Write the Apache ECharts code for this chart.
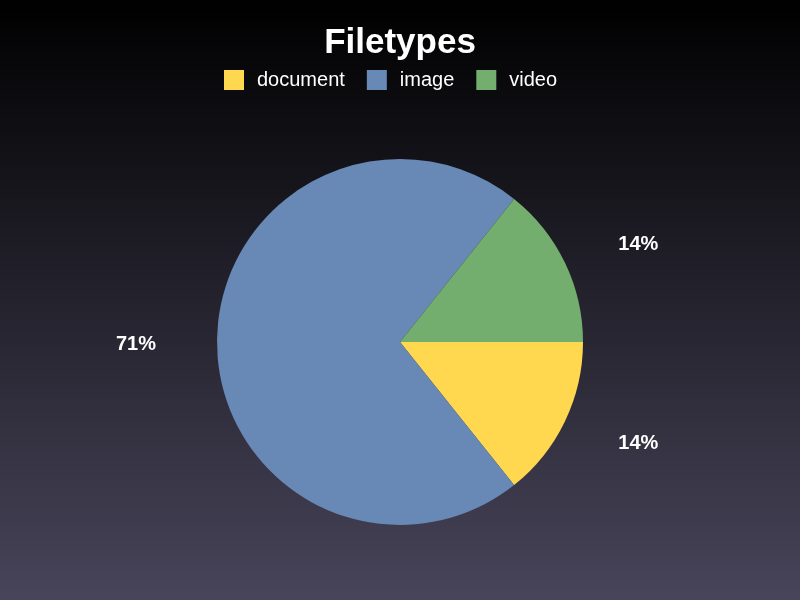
<!DOCTYPE html>
<html>
<head>
<meta charset="utf-8">
<title>Filetypes</title>
<script src="https://cdn.jsdelivr.net/npm/echarts@6/dist/echarts.min.js"></script>
<style>
  html, body { margin: 0; padding: 0; }
  #chart { width: 800px; height: 600px; }
</style>
</head>
<body>
<div id="chart"></div>
<script>
// 文件类型占比
const categories = ['document', 'image', 'video'];
const counts = [1, 5, 1];
const colors = ['#ffd84f', '#6888b6', '#73ae6f'];

const chart = echarts.init(document.getElementById('chart'));
chart.setOption({
  backgroundColor: {
    type: 'linear', x: 0, y: 0, x2: 0, y2: 1,
    colorStops: [
      { offset: 0, color: '#000000' },
      { offset: 1, color: '#48445a' },
    ],
  },
  color: colors,
  title: {
    text: 'Filetypes',
    left: 'center',
    top: 21,
    textStyle: { color: '#fff', fontSize: 35, fontWeight: 'bold', fontFamily: 'Liberation Sans' },
  },
  legend: {
    data: categories,
    top: 65,
    left: 219,
    icon: 'rect',
    itemWidth: 20,
    itemHeight: 20,
    itemGap: 22,
    textStyle: { color: '#fff', fontSize: 20, fontFamily: 'Liberation Sans', padding: [0, 0, 0, 8] },
  },
  series: [
    {
      type: 'pie',
      center: [400, 342],
      radius: 183,
      startAngle: 0,
      clockwise: true,
      avoidLabelOverlap: false,
      data: categories.map((name, i) => ({
        name,
        value: counts[i],
        // 左侧标签稍微外移
        labelLine: name === 'image' ? { length2: 10 } : undefined,
      })),
      label: {
        show: true,
        position: 'outside',
        formatter: (p) => `${Math.round(p.percent)}%`,
        color: '#fff',
        fontSize: 20,
        fontWeight: 'bold',
        fontFamily: 'Liberation Sans',
      },
      labelLayout: { dy: 2 },
      labelLine: { show: false, length: 46, length2: 7 },
      itemStyle: { borderWidth: 0 },
      emphasis: { disabled: true },
    },
  ],
});
</script>
</body>
</html>
